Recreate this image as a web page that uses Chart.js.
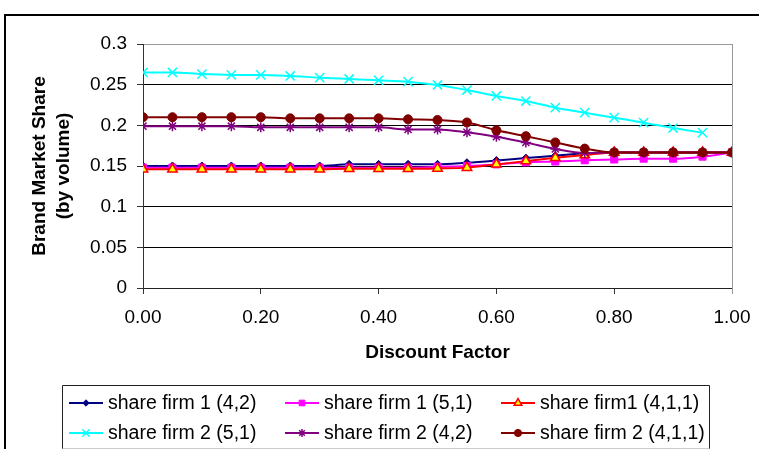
<!DOCTYPE html>
<html>
<head>
<meta charset="utf-8">
<script src="https://cdn.jsdelivr.net/npm/chart.js@4.4.1/dist/chart.umd.min.js"></script>
<style>
  html, body { margin: 0; padding: 0; background: #fff; }
  #chart-wrap { width: 759px; height: 449px; }
</style>
</head>
<body>
<div id="chart-wrap"><canvas id="share-chart" width="759" height="449"></canvas></div>
<script>
const discountFactors = [0, 0.05, 0.1, 0.15, 0.2, 0.25, 0.3, 0.35, 0.4, 0.45, 0.5,
    0.55, 0.6, 0.65, 0.7, 0.75, 0.8, 0.85, 0.9, 0.95, 1]

const firm1Share42 = [0.150, 0.150, 0.150, 0.150, 0.150, 0.150, 0.150, 0.152, 0.152, 0.152, 0.152,
    0.154, 0.1567, 0.1597, 0.1625, 0.1656, 0.1667, 0.1667, 0.1667, 0.1667, 0.1667]
const firm1Share51 = [0.148, 0.148, 0.148, 0.148, 0.148, 0.148, 0.148, 0.148, 0.148, 0.148, 0.149,
    0.150, 0.152, 0.1545, 0.1555, 0.157, 0.158, 0.159, 0.159, 0.1615, 0.1667]
const firm1Share411 = [0.146, 0.146, 0.146, 0.146, 0.146, 0.146, 0.146, 0.1465, 0.1465, 0.1465, 0.147,
    0.148, 0.152, 0.156, 0.160, 0.1635, 0.1667, 0.1667, 0.1667, 0.1667, 0.1667]
const firm2Share51 = [0.265, 0.265, 0.263, 0.262, 0.262, 0.2607, 0.2586, 0.257, 0.2554, 0.2537, 0.2496,
    0.2434, 0.2361, 0.2299, 0.2217, 0.2156, 0.2094, 0.2033, 0.1967, 0.191, null]
const firm2Share42 = [0.199, 0.199, 0.199, 0.199, 0.1975, 0.1975, 0.1975, 0.1975, 0.1975, 0.195, 0.195,
    0.1914, 0.186, 0.179, 0.171, 0.166, 0.1667, 0.1667, 0.1667, 0.1667, 0.1667]
const firm2Share411 = [0.210, 0.210, 0.210, 0.210, 0.210, 0.2086, 0.2086, 0.2086, 0.2086, 0.2074, 0.2066,
    0.2035, 0.194, 0.1867, 0.179, 0.1714, 0.1667, 0.1667, 0.1667, 0.1667, 0.1667]

const seriesLabels = ['share firm 1 (4,2)', 'share firm 1 (5,1)', 'share firm1 (4,1,1)',
    'share firm 2 (5,1)', 'share firm 2 (4,2)', 'share firm 2 (4,1,1)']
const yTicks = [0, 0.05, 0.1, 0.15, 0.2, 0.25, 0.3]
const xTicks = [0, 0.2, 0.4, 0.6, 0.8, 1]

const fontFamily = "'Liberation Sans', Arial, sans-serif"
const legendCols = [69, 285, 501], legendRows = [403, 433]

const toPoints = values => values.map((v, i) => ({x: discountFactors[i], y: v}))

const makeSeries = (idx, values, line, marker, fill, radius, markerWidth) => ({
    label: seriesLabels[idx],
    data: toPoints(values),
    borderColor: line,
    borderWidth: 2,
    pointStyle: marker,
    pointRadius: radius,
    pointHoverRadius: radius,
    pointBackgroundColor: fill,
    pointBorderColor: line,
    pointBorderWidth: markerWidth,
    cubicInterpolationMode: 'monotone',
    order: 6 - idx
})

// frame round the whole chart plus grey border of the plot area
const chartFrame = {
    id: 'chartFrame',
    beforeDraw(chart) {
        const c = chart.ctx
        c.save()
        c.fillStyle = '#fff'
        c.fillRect(0, 0, chart.width, chart.height)
        c.fillStyle = '#000'
        c.fillRect(4, 14, 2, chart.height - 14)
        c.fillRect(4, 14, chart.width - 4, 2)
        c.restore()
    },
    beforeDatasetsDraw(chart) {
        const {ctx: c, chartArea: a} = chart
        c.save()
        c.strokeStyle = '#999'
        c.lineWidth = 1
        c.beginPath()
        c.moveTo(a.right + 0.5, a.top)
        c.lineTo(a.right + 0.5, a.bottom + 6)
        c.stroke()
        c.restore()
    }
}

// Excel style legend: 3 columns, 2 rows, inside a box
const boxedLegend = {
    id: 'boxedLegend',
    afterDraw(chart) {
        const c = chart.ctx
        c.save()
        c.lineWidth = 1
        c.strokeStyle = '#222'
        c.beginPath()
        c.moveTo(62.5, 449)
        c.lineTo(62.5, 385.5)
        c.lineTo(709.5, 385.5)
        c.lineTo(709.5, 449)
        c.stroke()
        c.strokeStyle = '#ccc'
        c.beginPath()
        c.moveTo(62.5, 448.5)
        c.lineTo(709.5, 448.5)
        c.stroke()

        c.font = '19.5px ' + fontFamily
        c.textBaseline = 'middle'
        c.textAlign = 'left'
        chart.data.datasets.forEach((ds, i) => {
            const x = legendCols[i % 3], y = legendRows[Math.floor(i / 3)]
            c.strokeStyle = ds.borderColor
            c.lineWidth = 2
            c.beginPath()
            c.moveTo(x, y)
            c.lineTo(x + 34, y)
            c.stroke()
            c.fillStyle = ds.pointBackgroundColor
            c.strokeStyle = ds.pointBorderColor
            c.lineWidth = ds.pointBorderWidth
            Chart.helpers.drawPoint(c, {
                pointStyle: ds.pointStyle,
                radius: ds.pointRadius * 0.8,
                rotation: 0,
                borderWidth: ds.pointBorderWidth
            }, x + 17, y)
            c.fillStyle = '#000'
            c.fillText(ds.label, x + 39, y + 1)
        })
        c.restore()
    }
}

const ctx = document.getElementById('share-chart')

const myChart = new Chart(ctx, {
    type: 'line',
    data: {
        datasets: [
            makeSeries(0, firm1Share42, '#000080', 'rectRot', '#000080', 4, 1),
            makeSeries(1, firm1Share51, '#ff00ff', 'rect', '#ff00ff', 5, 1),
            makeSeries(2, firm1Share411, '#ff0000', 'triangle', '#ffff00', 5.5, 1.5),
            makeSeries(3, firm2Share51, '#00ffff', 'crossRot', '#00ffff', 6.5, 1.5),
            makeSeries(4, firm2Share42, '#800080', 'star', '#800080', 5, 1.5),
            makeSeries(5, firm2Share411, '#800000', 'circle', '#800000', 4.5, 1)
        ]
    },
    plugins: [chartFrame, boxedLegend],
    options: {
        responsive: false,
        devicePixelRatio: 1,
        animation: false,
        layout: {
            padding: {left: 0, top: 44, right: 27, bottom: 81}
        },
        plugins: {
            legend: {display: false},
            tooltip: {enabled: false}
        },
        scales: {
            x: {
                type: 'linear',
                min: 0,
                max: 1,
                afterFit: scale => {
                    scale.height = 80
                    scale.paddingLeft = 0
                    scale.paddingRight = 0
                },
                afterBuildTicks: scale => { scale.ticks = xTicks.map(v => ({value: v})) },
                ticks: {
                    color: '#000',
                    padding: 12,
                    maxRotation: 0,
                    autoSkip: false,
                    font: {family: fontFamily, size: 19},
                    callback: v => Number(v).toFixed(2)
                },
                grid: {
                    drawOnChartArea: false,
                    drawTicks: true,
                    tickLength: 6,
                    tickColor: '#333'
                },
                border: {color: '#222', width: 1},
                title: {
                    display: true,
                    text: 'Discount Factor',
                    color: '#000',
                    padding: {top: 0, bottom: 4},
                    font: {family: fontFamily, size: 19, weight: 'bold'}
                }
            },
            y: {
                min: 0,
                max: 0.3,
                afterFit: scale => { scale.width = 143 },
                afterBuildTicks: scale => { scale.ticks = yTicks.map(v => ({value: v})) },
                ticks: {
                    color: '#000',
                    padding: 10,
                    font: {family: fontFamily, size: 19},
                    callback: v => String(Number(Number(v).toFixed(2)))
                },
                grid: {
                    color: c => (c.tick && c.tick.value > 0.29) ? '#999' : '#000',
                    drawTicks: true,
                    tickLength: 6,
                    tickColor: '#333'
                },
                border: {color: '#333', width: 1},
                title: {
                    display: true,
                    text: ['Brand Market Share', '(by volume)'],
                    color: '#000',
                    padding: {top: 27, bottom: 0},
                    font: {family: fontFamily, size: 19, weight: 'bold', lineHeight: 1.3}
                }
            }
        }
    }
})
</script>
</body>
</html>
